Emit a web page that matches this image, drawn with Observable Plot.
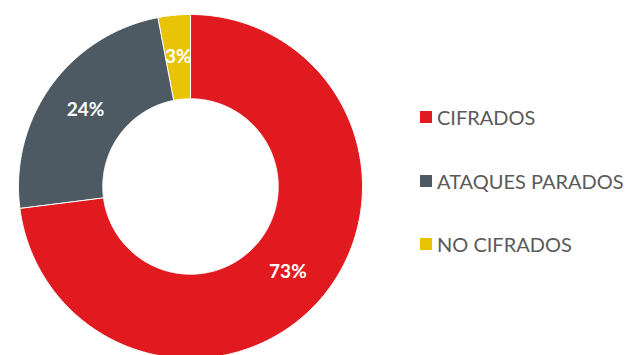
<!DOCTYPE html>
<html><head><meta charset="utf-8">
<script src="https://cdn.jsdelivr.net/npm/d3@7"></script>
<script src="https://cdn.jsdelivr.net/npm/@observablehq/plot@0.6"></script>
<style>
body{margin:0;overflow:hidden;background:#fff;}
#wrap{position:relative;width:635px;height:355px;overflow:hidden;}
#chart{position:absolute;left:0;top:0;}
.leg{position:absolute;left:420px;display:flex;align-items:center;font-family:Lato,"Open Sans",sans-serif;font-size:20px;color:#5a5a5a;white-space:nowrap;}
.sw{width:12px;height:12px;margin-right:5px;}
</style>
</head><body>
<div id="wrap"><div id="chart"></div><div id="legend"></div></div>
<script>
const categories = ["CIFRADOS", "ATAQUES PARADOS", "NO CIFRADOS"];
const values = [73, 24, 3];
const labels = ["73%", "24%", "3%"];
const colors = ["#e01a1f", "#4e5a63", "#e9c305"];
const innerRatio = 0.51;
const legendRowsY = [117, 181, 244];

const total = d3.sum(values);
let acc = 0;
const slices = categories.map((c, i) => {
  const a0 = acc / total * 2 * Math.PI;
  acc += values[i];
  const a1 = acc / total * 2 * Math.PI;
  return {category: c, value: values[i], label: labels[i], a0, a1, mid: (a0 + a1) / 2};
});
function ring(a0, a1, r0, r1) {
  const n = Math.max(2, Math.ceil((a1 - a0) / (Math.PI / 360)));
  const pts = [];
  for (let k = 0; k <= n; k++) { const a = a0 + (a1 - a0) * k / n; pts.push([r1 * Math.sin(a), r1 * Math.cos(a)]); }
  for (let k = n; k >= 0; k--) { const a = a0 + (a1 - a0) * k / n; pts.push([r0 * Math.sin(a), r0 * Math.cos(a)]); }
  pts.push(pts[0]);
  return pts;
}
const features = slices.map(s => ({type: "Feature", properties: s, geometry: {type: "Polygon", coordinates: [ring(s.a0, s.a1, innerRatio, 1)]}}));
const domain = {type: "Polygon", coordinates: [[[-1, -1], [1, -1], [1, 1], [-1, 1], [-1, -1]]]};
const labR = (1 + innerRatio) / 2;

const chart = Plot.plot({
  width: 635, height: 358,
  marginLeft: 18, marginRight: 273, marginTop: 14, marginBottom: 0,
  projection: {type: "reflect-y", domain},
  color: {domain: categories, range: colors},
  marks: [
    Plot.geo(features, {fill: d => d.properties.category, stroke: "white", strokeWidth: 1}),
    Plot.text(slices, {x: d => labR * Math.sin(d.mid), y: d => labR * Math.cos(d.mid), text: "label", fill: "white", fontWeight: "bold", fontSize: 19, fontFamily: "Lato, 'Open Sans', sans-serif"})
  ]
});
document.getElementById("chart").append(chart);

const leg = document.getElementById("legend");
categories.forEach((c, i) => {
  const row = document.createElement("div");
  row.className = "leg";
  row.style.top = (legendRowsY[i] - 12) + "px";
  row.style.height = "24px";
  const sw = document.createElement("span");
  sw.className = "sw"; sw.style.background = colors[i];
  const t = document.createElement("span");
  t.textContent = c;
  row.append(sw, t);
  leg.append(row);
});
</script>
</body></html>
